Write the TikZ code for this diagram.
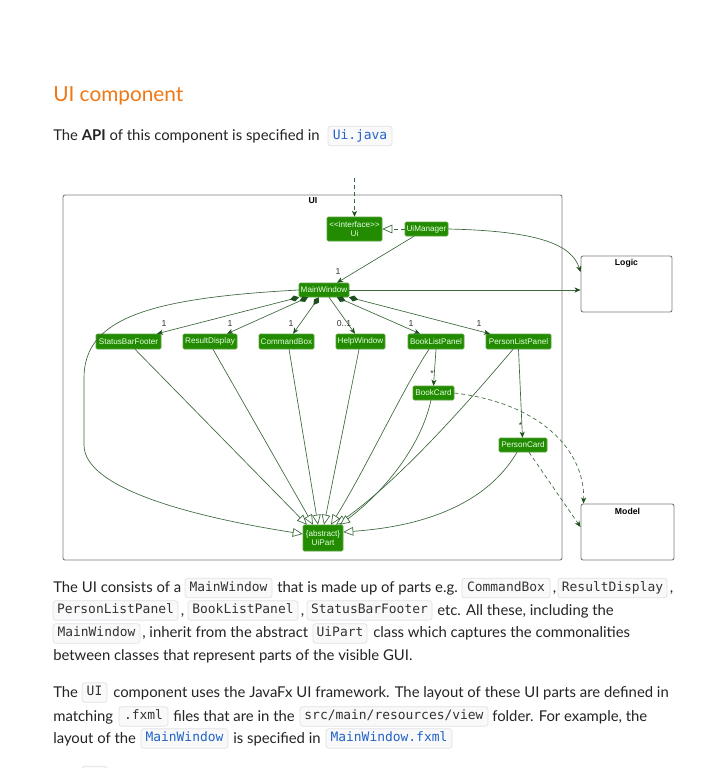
\documentclass[tikz,border=0pt]{standalone}
\usepackage{fontspec}
\setmainfont{Lato}
\setmonofont{DejaVu Sans Mono}
\newfontfamily\dfont{Liberation Sans}
\usetikzlibrary{arrows.meta,calc}
\definecolor{uigreen}{RGB}{34,139,0}
\definecolor{uiborder}{RGB}{90,165,60}
\definecolor{uiline}{RGB}{62,104,62}
\definecolor{uihead}{RGB}{30,80,30}
\definecolor{headorange}{RGB}{240,120,20}
\definecolor{bodytext}{RGB}{36,36,36}
\definecolor{codeblue}{RGB}{33,99,199}
\definecolor{codegray}{RGB}{51,51,51}
\definecolor{codefill}{RGB}{249,249,250}
\definecolor{codeborder}{RGB}{222,225,230}
\definecolor{framegray}{RGB}{125,125,125}
\tikzset{
  cls/.style={draw=uiborder, fill=uigreen, text=white!90!green, font=\dfont\fontsize{6.1}{7}\selectfont, rounded corners=1pt, inner sep=0pt, minimum height=10.5pt, line width=0.4pt, align=center},
  pkgbox/.style={draw=framegray, rounded corners=1.5pt, line width=0.7pt, inner sep=0pt},
  pkgtitle/.style={font=\dfont\bfseries\fontsize{6.5}{7.5}\selectfont, inner sep=0pt, text=black},
  mult/.style={font=\dfont\fontsize{6.5}{7.5}\selectfont, inner sep=0pt, text=black!80},
  lnk/.style={draw=uiline, line width=0.5pt},
  assoc/.style={lnk, -{Stealth[length=4.5pt,width=3.8pt,inset=1.3pt,fill=uihead,color=uihead]}},
  comp/.style={lnk, {Diamond[length=7pt,width=4.5pt,fill=uihead,color=uihead]}-{Stealth[length=4.5pt,width=3.8pt,inset=1.3pt,fill=uihead,color=uihead]}},
  inh/.style={lnk, -{Triangle[open,length=7.5pt,width=6.5pt,fill=white,color=uiline]}},
  dep/.style={assoc, dash pattern=on 3pt off 2.2pt},
  bt/.style={anchor=base west, inner sep=0pt, font=\fontsize{11.15}{14}\selectfont, text=bodytext},
  cd/.style={draw=codeborder, fill=codefill, rounded corners=2pt, inner sep=0pt, minimum height=14.6pt, font=\ttfamily\fontsize{9.7}{11}\selectfont, text=codegray, line width=0.5pt, text height=7pt, text depth=2pt},
  cdb/.style={cd, text=codeblue}
}
\newcommand\codebx[6][]{\node[cd,#1,minimum width={(#3-#2)*0.75pt}] (#5) at ({(#2+#3)/2},#4) {#6};}
\begin{document}
\begin{tikzpicture}[x=0.75pt,y=-0.75pt]
\useasboundingbox (0,0) rectangle (719,768);
\clip (0,0) rectangle (719,768);
\fill[white] (0,0) rectangle (719,768);

% ---------- heading and intro ----------
\node[anchor=base west, inner sep=0pt, font=\fontsize{15.6}{19}\selectfont, text=headorange] (head) at (53,101.7) {UI component};
\node[bt] (intro) at (53,140) {The \textbf{API} of this component is specified in};
\codebx[cdb]{328}{392}{136}{cuijava}{Ui.java}

% ---------- diagram ----------
\node[pkgbox, minimum width=374.25pt, minimum height=273.75pt] (uipkg) at (312.5,377.5) {};
\node[pkgtitle] (uipkgt) at (313,201) {UI};
\node[pkgbox, minimum width=68.25pt, minimum height=42pt] (logic) at (626.5,284) {};
\node[pkgtitle] (logict) at (626.5,263) {Logic};
\node[pkgbox, minimum width=69.75pt, minimum height=42pt] (model) at (627.5,532) {};
\node[pkgtitle] (modelt) at (627.5,511) {Model};

\node[cls, minimum width=41.25pt, minimum height=18pt] (ui) at (354.5,229) {<<interface>>\\Ui};
\node[cls, minimum width=32.25pt] (uim) at (426.5,229) {UiManager};
\node[cls, minimum width=37.5pt] (mw) at (324,290) {MainWindow};
\node[cls, minimum width=48.75pt, minimum height=11.25pt] (sbf) at (128.5,341.5) {StatusBarFooter};
\node[cls, minimum width=40.5pt, minimum height=11.25pt] (rd) at (210,341.5) {ResultDisplay};
\node[cls, minimum width=41.25pt, minimum height=11.25pt] (cb) at (286.5,341.5) {CommandBox};
\node[cls, minimum width=36.75pt, minimum height=11.25pt] (hw) at (360.5,341.5) {HelpWindow};
\node[cls, minimum width=42pt, minimum height=11.25pt] (blp) at (436,341.5) {BookListPanel};
\node[cls, minimum width=48.75pt, minimum height=11.25pt] (plp) at (518.5,341.5) {PersonListPanel};
\node[cls, minimum width=30.75pt] (bc) at (433.5,393) {BookCard};
\node[cls, minimum width=36pt] (pc) at (523,445) {PersonCard};
\node[cls, minimum width=30pt, minimum height=19.5pt] (up) at (323,538) {\{abstract\}\\UiPart};

\coordinate (topin) at (354.5,178);
\draw[dep] (topin) -- (ui.north);
\draw[lnk, dash pattern=on 3pt off 2.2pt, -{Triangle[open,length=7.5pt,width=6.5pt,fill=white,color=uiline]}] (uim.west) -- (ui.east);
\draw[assoc] ([xshift=-9.4pt]uim.south) -- ([xshift=9.75pt]mw.north);
\node[mult] (m0) at (338,272) {1};
\draw[assoc] (uim.east) .. controls (540,231) and (572,245) .. ([yshift=9pt]logic.west);
\draw[assoc] (mw.east) -- (mw.east -| logic.west);

% compositions
\draw[comp] ([xshift=-18.75pt]mw.south) -- ([xshift=21.4pt]sbf.north);
\draw[comp] ([xshift=-12pt]mw.south) -- ([xshift=12.75pt]rd.north);
\draw[comp] ([xshift=-3.75pt]mw.south) -- ([xshift=4.9pt]cb.north);
\draw[assoc] ([xshift=3.75pt]mw.south) -- ([xshift=-4.1pt]hw.north);
\draw[comp] ([xshift=9.75pt]mw.south) -- ([xshift=-12pt]blp.north);
\draw[comp] ([xshift=18.75pt]mw.south) -- ([xshift=-21.4pt]plp.north);
\node[mult] (m1) at (164,324) {1};
\node[mult] (m2) at (230,324) {1};
\node[mult] (m3) at (291,324) {1};
\node[mult] (m4) at (344,324) {0..1};
\node[mult] (m5) at (411,324) {1};
\node[mult] (m6) at (479,324) {1};

\draw[assoc] (blp.south) -- (bc.north);
\draw[assoc] (plp.south) -- ([xshift=-0.4pt]pc.north);
\node[mult] (m7) at (432,374) {*};
\node[mult] (m8) at (520.5,426) {*};

% inheritance to UiPart
\draw[inh] (mw.west) .. controls (150,298) and (84,318) .. (84,378) -- (84,445) .. controls (84,490) and (200,518) .. ([yshift=3pt]up.west);
\draw[inh] ([xshift=4.9pt]sbf.south) -- ([xshift=-12pt]up.north);
\draw[inh] ([xshift=2.25pt]rd.south) -- ([xshift=-7.5pt]up.north);
\draw[inh] ([xshift=1.9pt]cb.south) -- ([xshift=-3.75pt]up.north);
\draw[inh] ([xshift=-1.1pt]hw.south) -- ([xshift=0.75pt]up.north);
\draw[inh] ([xshift=-5.25pt]blp.south) .. controls (405,385) and (365,470) .. ([xshift=6pt]up.north);
\draw[inh] ([xshift=-4.1pt]plp.south) .. controls (470,400) and (400,480) .. ([xshift=9.75pt]up.north);
\draw[inh] ([xshift=-1.9pt]bc.south) .. controls (420,450) and (380,495) .. ([xshift=12.75pt]up.north);
\draw[inh] ([xshift=-4.5pt]pc.south) .. controls (480,515) and (400,528) .. ([yshift=4.5pt]up.east);

% dependencies to Model
\draw[dep] (bc.east) .. controls (540,403) and (585,450) .. ([xshift=2.25pt]model.north west);
\draw[dep] ([xshift=4.5pt]pc.south) -- ([yshift=3.75pt]model.west);

% ---------- paragraph 1 ----------
\node[bt] (p1a) at (53,592.7) {The UI consists of a};
\codebx{185}{272}{588}{c1}{MainWindow}
\node[bt] (p1b) at (277,592.7) {that is made up of parts e.g.};
\codebx{462}{550}{588}{c2}{CommandBox}
\node[bt] (p1c) at (552.5,592.7) {,};
\codebx{558}{667}{588}{c3}{ResultDisplay}
\node[bt] (p1d) at (669.5,592.7) {,};
\codebx{53}{178}{610.5}{c4}{PersonListPanel}
\node[bt] (p1e) at (180.5,615) {,};
\codebx{188}{298}{610.5}{c5}{BookListPanel}
\node[bt] (p1f) at (300.5,615) {,};
\codebx{307}{432}{610.5}{c6}{StatusBarFooter}
\node[bt] (p1g) at (437,615) {etc. All these, including the};
\codebx{53}{140}{633.5}{c7}{MainWindow}
\node[bt] (p1h) at (142,637.7) {, inherit from the abstract};
\codebx{313}{367}{633.5}{c8}{UiPart}
\node[bt] (p1i) at (373,637.7) {class which captures the commonalities};
\node[bt] (p1j) at (53,660.4) {between classes that represent parts of the visible GUI.};

% ---------- paragraph 2 ----------
\node[bt] (p2a) at (53,697) {The};
\codebx{82}{107}{692.5}{c9}{UI}
\node[bt] (p2b) at (113,697) {component uses the JavaFx UI framework. The layout of these UI parts are defined in};
\node[bt] (p2c) at (53,721) {matching};
\codebx{119}{168}{716.5}{c10}{.fxml}
\node[bt] (p2d) at (173,721) {files that are in the};
\codebx{300}{488}{716.5}{c11}{src/main/resources/view}
\node[bt] (p2e) at (492,721) {folder. For example, the};
\node[bt] (p2f) at (53,743) {layout of the};
\codebx[cdb]{141}{228}{738.5}{c12}{MainWindow}
\node[bt] (p2g) at (233,743) {is specified in};
\codebx[cdb]{326}{452}{738.5}{c13}{MainWindow.fxml}
\codebx{82}{107}{776}{c14}{}
\end{tikzpicture}
\end{document}
